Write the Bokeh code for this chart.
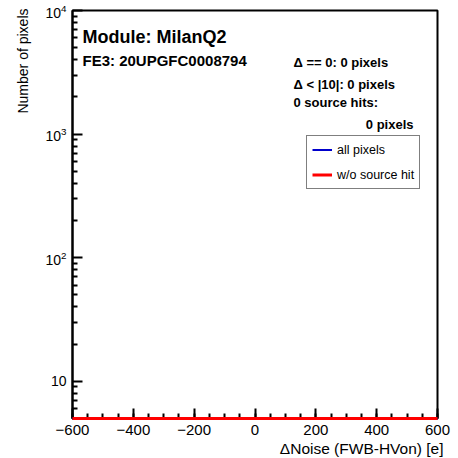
import math
import numpy as np
from bokeh.plotting import figure
from bokeh.models import (FixedTicker, LogTickFormatter, Label, Legend, LegendItem, Range1d, Title)
from bokeh.embed import file_html
from bokeh.resources import INLINE

# ---- data ----
bin_edges = list(range(-600, 601, 10))
counts_all = [0] * 120          # all pixels (empty histogram)
counts_nosrc = [0] * 120        # w/o source hit (empty histogram)
x_major = [-600, -400, -200, 0, 200, 400, 600]
x_minor = list(range(-600, 601, 50))
y_major = [10, 100, 1000, 10000]
y_minor = [5, 6, 7, 8, 9] + [k * 10 for k in range(2, 10)] + [k * 100 for k in range(2, 10)] + [k * 1000 for k in range(2, 10)]
x_title = "\u0394Noise (FWB-HVon) [e]"
y_title = "Number of pixels"
module_text = "Module: MilanQ2"
fe_text = "FE3: 20UPGFC0008794"
stat_texts = ["\u0394 == 0: 0 pixels", "\u0394 < |10|: 0 pixels", "0 source hits:", "0 pixels"]
legend_labels = ["all pixels", "w/o source hit"]

XMIN, XMAX = -600, 600
YMIN, YMAX = 5, 1e4
FONT = "Liberation Sans"

W, H = 458, 458
p = figure(width=W, height=H, output_backend="svg", toolbar_location=None,
           x_range=Range1d(XMIN, XMAX), y_range=Range1d(YMIN, YMAX),
           y_axis_type="log",
           min_border_left=72, min_border_right=21, min_border_top=10, min_border_bottom=40)
p.background_fill_color = "white"
p.border_fill_color = "white"
p.outline_line_color = "black"
p.outline_line_width = 2
p.xgrid.visible = False
p.ygrid.visible = False

# frame mapping helpers (page pixel -> data), frame: x 72..437, y 10..418
def dx(px):
    return XMIN + (px - 72) / 365.0 * (XMAX - XMIN)

def dy(py):
    l0, l1 = math.log10(YMIN), math.log10(YMAX)
    return 10 ** (l0 + (418 - py) / 408.0 * (l1 - l0))

# axes
xa = p.xaxis[0]
xa.ticker = FixedTicker(ticks=x_major, minor_ticks=x_minor)
xa.major_label_overrides = {v: (("\u2212" + str(abs(v))) if v < 0 else str(v)) for v in x_major}
xa.major_label_standoff = 6
ya = p.yaxis[0]
ya.ticker = FixedTicker(ticks=y_major, minor_ticks=y_minor)
ya.formatter = LogTickFormatter(min_exponent=1)
ya.major_label_overrides = {10: "10"}
ya.major_label_standoff = 6
for ax in (xa, ya):
    ax.axis_line_color = "black"
    ax.axis_line_width = 2
    ax.major_tick_in = 10
    ax.major_tick_out = 0
    ax.minor_tick_in = 5
    ax.minor_tick_out = 0
    ax.major_tick_line_width = 2
    ax.minor_tick_line_width = 2
    ax.major_label_text_font = FONT
    ax.major_label_text_color = "black"
xa.major_label_text_font_size = "15px"
ya.major_label_text_font_size = "14px"

# axis titles (right/top aligned, ROOT style)
xt = Title(text=x_title, align="right", offset=-6, standoff=0,
           text_font=FONT, text_font_size="15.5px", text_font_style="normal", text_color="black")
p.add_layout(xt, "below")
yt = Title(text=y_title, align="right", offset=-2, standoff=23,
           text_font=FONT, text_font_size="14px", text_font_style="normal", text_color="black")
p.add_layout(yt, "left")

# histograms (empty -> drawn at the frame bottom)
edges = np.array(bin_edges, dtype=float)
def step_y(c):
    v = np.maximum(np.array(c, dtype=float), YMIN)
    return np.append(v, v[-1])

r_all = p.step(edges, step_y(counts_all), mode="after", line_color="#0000cc", line_width=2, level="overlay")
r_nosrc = p.step(edges, step_y(counts_nosrc), mode="after", line_color="red", line_width=3, level="overlay")
# small black markers in legend glyphs (error-bar style)
m_all = p.scatter([], [], marker="square", size=2, color="black")
m_nosrc = p.scatter([], [], marker="square", size=2, color="black")

legend = Legend(items=[LegendItem(label=legend_labels[0], renderers=[r_all, m_all]),
                       LegendItem(label=legend_labels[1], renderers=[r_nosrc, m_nosrc])],
                location=(234, 229))
legend.label_text_font = FONT
legend.label_text_font_size = "12.5px"
legend.label_text_color = "black"
legend.border_line_color = "black"
legend.border_line_width = 1.5
legend.background_fill_alpha = 1
legend.glyph_width = 20
legend.glyph_height = 17
legend.label_height = 17
legend.label_standoff = 5
legend.padding = 5
legend.spacing = 8
legend.margin = 0
p.add_layout(legend)

# texts
def add_text(txt, px, py, size, bold=True, align="left"):
    p.add_layout(Label(x=dx(px), y=dy(py), text=txt, text_font=FONT,
                       text_font_size=size, text_font_style="bold" if bold else "normal",
                       text_align=align, text_baseline="alphabetic", text_color="black"))

add_text(module_text, 82, 36, "18px")
add_text(fe_text, 82, 60, "15px")
add_text(stat_texts[0], 293, 62, "13px")
add_text(stat_texts[1], 293, 84, "13px")
add_text(stat_texts[2], 293, 101.5, "13px")
add_text(stat_texts[3], 413, 124, "13px", align="right")

open("out.html", "w").write(file_html(p, INLINE))
